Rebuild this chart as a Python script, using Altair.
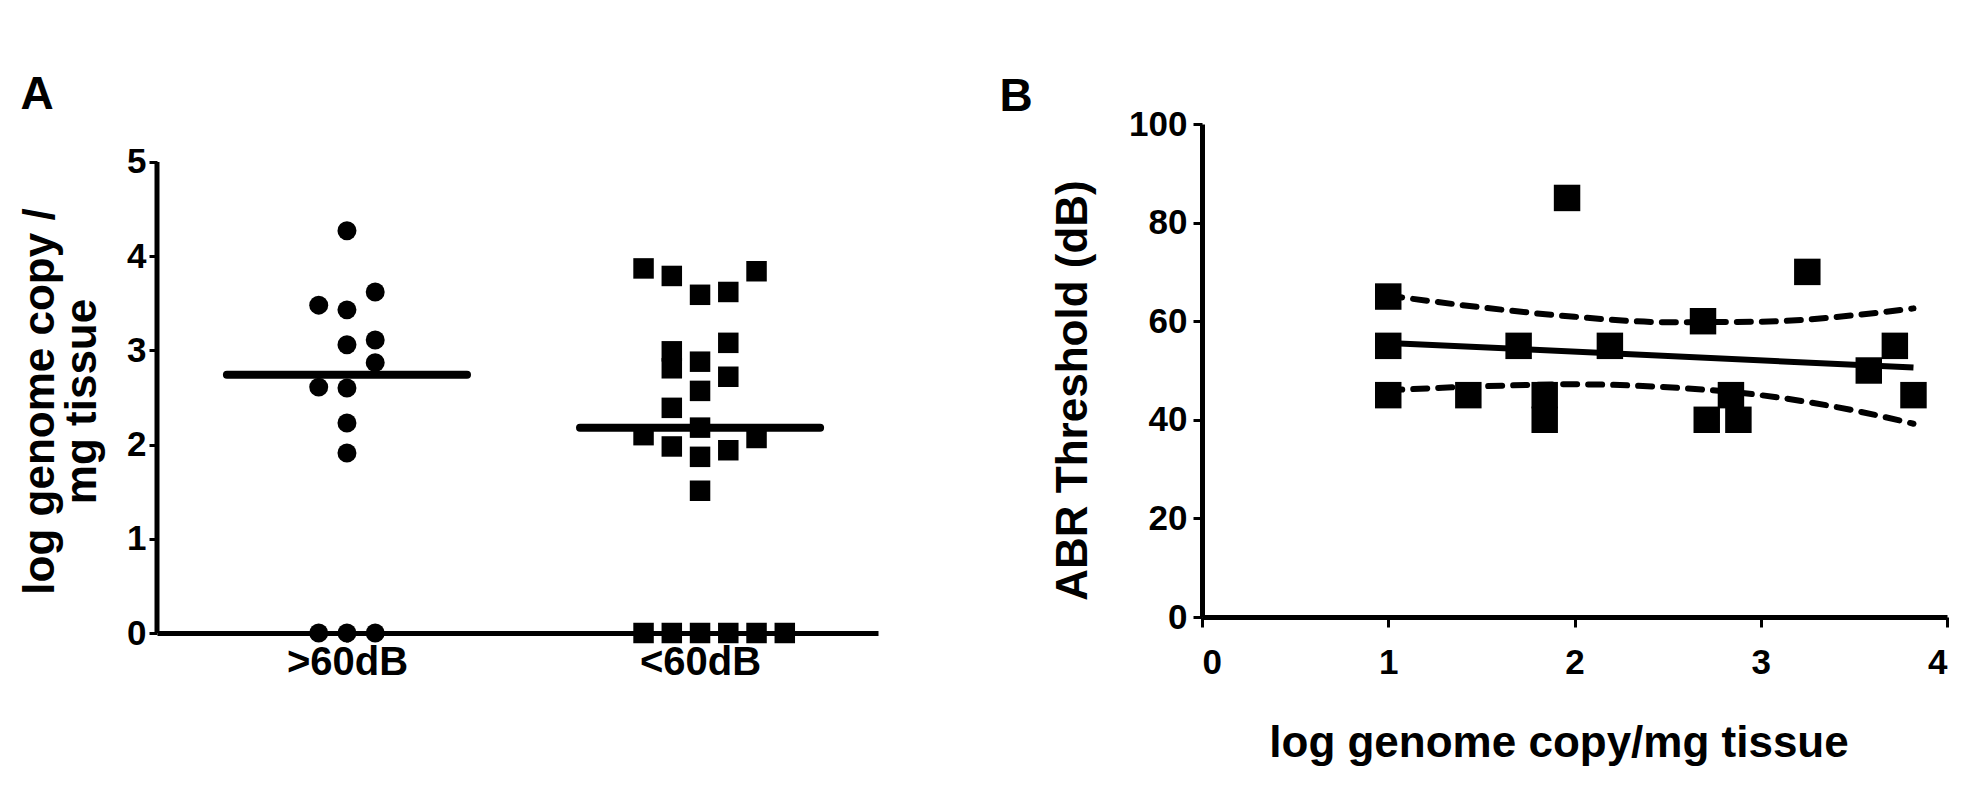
import altair as alt
import pandas as pd

FONT = "Liberation Sans"

# ---------------- Panel A data ----------------
a_groups = [">60dB", "<60dB"]
a_high_vals = [4.27, 3.62, 3.48, 3.43, 3.11, 3.06, 2.87, 2.61, 2.60, 2.23, 1.91, 0, 0, 0]
a_high_cols = [0, 1, -1, 0, 1, 0, 1, -1, 0, 0, 0, -1, 0, 1]
a_low_vals = [3.87, 3.79, 3.59, 3.62, 3.84, 2.99, 2.81, 2.88, 3.08, 2.72, 2.57, 2.39,
              2.18, 2.10, 1.98, 1.94, 2.07, 1.87, 1.51, 0, 0, 0, 0, 0, 0]
a_low_cols = [-2, -1, 0, 1, 2, -1, -1, 0, 1, 1, 0, -1, 0, -2, -1, 1, 2, 0, 0,
              -2, -1, 0, 1, 2, 3]
a_means = [2.74, 2.18]
a_ticks = [0, 1, 2, 3, 4, 5]

# ---------------- Panel B data ----------------
b_x = [1.0, 1.0, 1.0, 1.43, 1.70, 1.84, 1.84, 1.96, 2.19, 2.69, 2.71, 2.84, 2.88, 3.25, 3.58, 3.72, 3.82]
b_y = [65, 55, 45, 45, 55, 45, 40, 85, 55, 60, 40, 45, 40, 70, 50, 55, 45]
fit_x = [1.0, 3.82]
fit_y = [55.6, 50.6]
band_x = [1.0, 1.5, 2.0, 2.5, 3.0, 3.5, 3.82]
band_hi = [65.2, 62.8, 60.9, 59.8, 59.9, 61.2, 62.6]
band_lo = [46.0, 46.8, 47.2, 46.6, 45.0, 41.9, 39.2]
b_xticks = [0, 1, 2, 3, 4]
b_yticks = [0, 20, 40, 60, 80, 100]

COL_STEP = 0.08
HALF = 0.34

df_high = pd.DataFrame({"g": 1, "val": a_high_vals, "col": a_high_cols})
df_low = pd.DataFrame({"g": 2, "val": a_low_vals, "col": a_low_cols})
df_high["xp"] = df_high["g"] + df_high["col"] * COL_STEP
df_low["xp"] = df_low["g"] + df_low["col"] * COL_STEP
df_mean = pd.DataFrame({"g": [1, 2], "mean": a_means, "name": a_groups})
df_mean["x1"] = df_mean["g"] - HALF
df_mean["x2"] = df_mean["g"] + HALF

xa_scale = alt.Scale(domain=[0.462, 2.504], nice=False, zero=False)
ya_scale = alt.Scale(domain=[0, 5.403], nice=False)

xa_axis = alt.Axis(values=[1, 2], title=None,
                   labelExpr="datum.value == 1 ? '>60dB' : '<60dB'",
                   labelFontSize=40, labelPadding=0, tickSize=9)
ya_axis = alt.Axis(values=a_ticks, title=["log genome copy /", "mg tissue"], domain=False,
                   titleLineHeight=42, titlePadding=22, labelPadding=3, tickSize=8, titleY=277)

pts_high = alt.Chart(df_high).mark_point(filled=True, shape="circle", size=360,
                                          color="black", opacity=1).encode(
    x=alt.X("xp:Q", scale=xa_scale, axis=xa_axis),
    y=alt.Y("val:Q", scale=ya_scale, axis=ya_axis),
)
pts_low = alt.Chart(df_low).mark_point(filled=True, shape="square", size=420,
                                        color="black", opacity=1).encode(
    x=alt.X("xp:Q", scale=xa_scale, axis=xa_axis),
    y=alt.Y("val:Q", scale=ya_scale, axis=ya_axis),
)
mean_rules = alt.Chart(df_mean).mark_rule(strokeWidth=8, strokeCap="round", color="black").encode(
    x=alt.X("x1:Q", scale=xa_scale, axis=xa_axis),
    x2="x2:Q",
    y=alt.Y("mean:Q", scale=ya_scale, axis=ya_axis),
)
# y-axis spine from the first to the last tick value
a_spine = alt.Chart(pd.DataFrame({"lo": [min(a_ticks)], "hi": [max(a_ticks)]})).mark_rule(
    strokeWidth=5, color="black").encode(
    x=alt.value(0),
    y=alt.Y("lo:Q", scale=ya_scale, axis=ya_axis),
    y2="hi:Q",
)

panel_a = alt.layer(a_spine, pts_high, pts_low, mean_rules).properties(
    width=721, height=509,
    title=alt.TitleParams("A", anchor="start", fontSize=46, fontWeight="bold", font=FONT,
                          color="black", offset=5, frame="bounds", dx=2),
)

# ---------------- Panel B ----------------
df_b = pd.DataFrame({"x": b_x, "y": b_y})
df_fit = pd.DataFrame({"x": fit_x, "y": fit_y})
df_band = pd.concat([
    pd.DataFrame({"x": band_x, "y": band_hi, "s": "upper"}),
    pd.DataFrame({"x": band_x, "y": band_lo, "s": "lower"}),
])

B_W = 745
xb_scale = alt.Scale(domain=[0, 4], nice=False)
yb_scale = alt.Scale(domain=[0, 100], nice=False)
xb_axis = alt.Axis(values=b_xticks, title="log genome copy/mg tissue", titleX=B_W / 2 - 16,
                   titlePadding=41, labelPadding=18, tickSize=10)
yb_axis = alt.Axis(values=b_yticks, title="ABR Threshold (dB)", titleY=266,
                   titlePadding=33, labelPadding=6, tickSize=9)

b_pts = alt.Chart(df_b).mark_point(filled=True, shape="square", size=700,
                                   color="black", opacity=1).encode(
    x=alt.X("x:Q", scale=xb_scale, axis=xb_axis),
    y=alt.Y("y:Q", scale=yb_scale, axis=yb_axis),
)
b_fit = alt.Chart(df_fit).mark_line(strokeWidth=6, color="black").encode(
    x=alt.X("x:Q", scale=xb_scale, axis=xb_axis),
    y=alt.Y("y:Q", scale=yb_scale, axis=yb_axis),
)
b_band = alt.Chart(df_band).mark_line(strokeWidth=6, color="black", strokeDash=[14, 11],
                                      strokeCap="round", interpolate="monotone").encode(
    x=alt.X("x:Q", scale=xb_scale, axis=xb_axis),
    y=alt.Y("y:Q", scale=yb_scale, axis=yb_axis),
    detail="s:N",
)

panel_b = alt.layer(b_band, b_fit, b_pts).properties(
    width=B_W, height=493,
    title=alt.TitleParams("B", anchor="start", fontSize=46, fontWeight="bold", font=FONT,
                          color="black", offset=-14, frame="bounds", dx=-52),
)

chart = alt.hconcat(panel_a, panel_b, spacing=121).configure_view(stroke=None).configure_axis(
    domainColor="black", domainWidth=5, tickColor="black", tickWidth=3,
    labelFont=FONT, labelFontWeight="bold", labelFontSize=35, labelColor="black",
    titleFont=FONT, titleFontWeight="bold", titleFontSize=44, titleColor="black",
    grid=False,
).properties(background="white", padding={"left": 10, "top": 64, "right": 5, "bottom": 5})

chart.save("out.html", embed_options={"renderer": "svg", "actions": False})
